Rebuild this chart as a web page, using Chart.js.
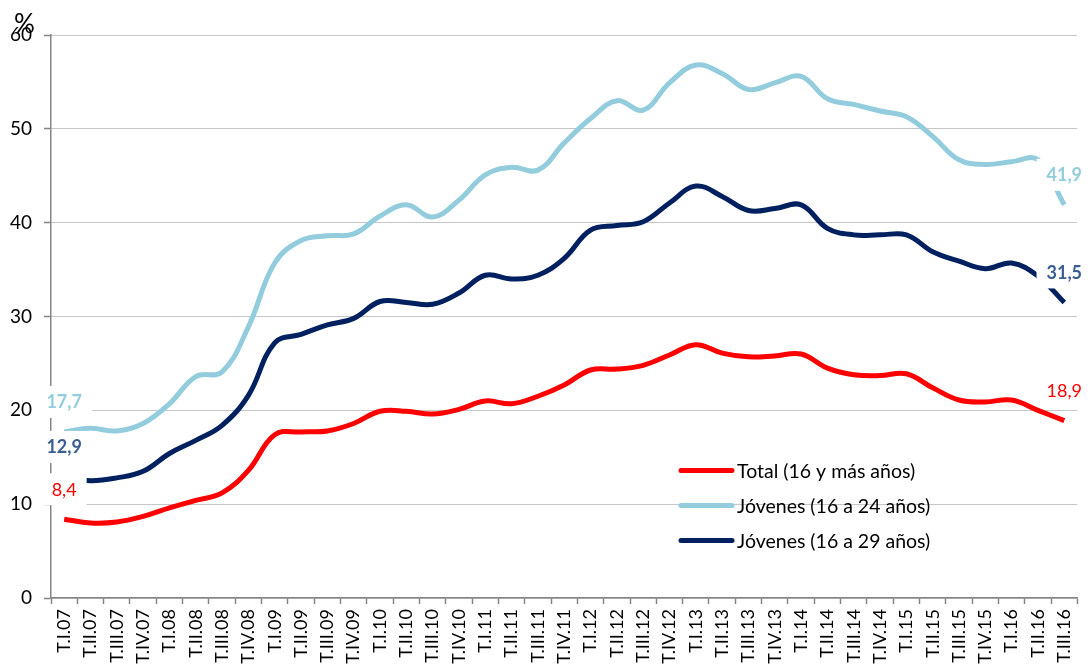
<!DOCTYPE html>
<html>
<head>
<meta charset="utf-8">
<script src="https://cdn.jsdelivr.net/npm/chart.js@4/dist/chart.umd.min.js"></script>
<style>
  body { margin: 0; background: #fff; }
  #wrap { width: 1091px; height: 670px; }
</style>
</head>
<body>
<div id="wrap"><canvas id="line-chart" width="1091" height="670"></canvas></div>
<script>
// trimestres
var trimestres = ['T.I.07', 'T.II.07', 'T.III.07', 'T.IV.07',
	'T.I.08', 'T.II.08', 'T.III.08', 'T.IV.08',
	'T.I.09', 'T.II.09', 'T.III.09', 'T.IV.09',
	'T.I.10', 'T.II.10', 'T.III.10', 'T.IV.10',
	'T.I.11', 'T.II.11', 'T.III.11', 'T.IV.11',
	'T.I.12', 'T.II.12', 'T.III.12', 'T.IV.12',
	'T.I.13', 'T.II.13', 'T.III.13', 'T.IV.13',
	'T.I.14', 'T.II.14', 'T.III.14', 'T.IV.14',
	'T.I.15', 'T.II.15', 'T.III.15', 'T.IV.15',
	'T.I.16', 'T.II.16', 'T.III.16'];

// tasa de paro (%)
var total = [8.4, 8.0, 8.1, 8.7, 9.6, 10.4, 11.2, 13.6, 17.4, 17.7, 17.8, 18.6, 19.9, 19.9, 19.6, 20.1,
	21.0, 20.7, 21.5, 22.7, 24.3, 24.4, 24.8, 25.9, 27.0, 26.1, 25.7, 25.8, 26.0, 24.5, 23.8, 23.7,
	23.9, 22.4, 21.1, 20.9, 21.1, 20.0, 18.9];
var jovenes24 = [17.7, 18.1, 17.8, 18.6, 20.7, 23.6, 24.1, 28.9, 35.7, 38.1, 38.6, 38.8, 40.7, 41.9, 40.6, 42.4,
	45.1, 45.9, 45.6, 48.5, 51.1, 53.0, 52.0, 54.9, 56.8, 55.9, 54.2, 54.9, 55.6, 53.2, 52.6, 51.9,
	51.3, 49.2, 46.7, 46.2, 46.5, 46.7, 41.9];
var jovenes29 = [12.9, 12.5, 12.8, 13.5, 15.4, 16.8, 18.4, 21.6, 27.2, 28.1, 29.1, 29.8, 31.6, 31.5, 31.3, 32.5,
	34.4, 34.0, 34.4, 36.2, 39.2, 39.7, 40.1, 42.1, 43.9, 42.8, 41.3, 41.5, 41.9, 39.4, 38.7, 38.7,
	38.7, 36.9, 35.9, 35.1, 35.7, 34.3, 31.5];

var nombres = ['Total (16 y más años)', 'Jóvenes (16 a 24 años)', 'Jóvenes (16 a 29 años)'];
var colores = ['#FF0000', '#93CDDD', '#002060'];
var coloresEtiqueta = ['#FF0000', '#93CDDD', '#3A5D92'];
var negrita = [false, true, true];

var fuente = 'Lato, "Open Sans", sans-serif';

// etiquetas de inicio/fin, leyenda y simbolo %
var extras = {
	id: 'extras',
	afterDatasetsDraw: function(chart) {
		var ctx = chart.ctx;
		chart.data.datasets.forEach(function(ds, i) {
			var meta = chart.getDatasetMeta(i);
			[0, meta.data.length - 1].forEach(function(j) {
				var p = meta.data[j];
				var txt = ds.data[j].toFixed(1).replace('.', ',');
				ctx.save();
				ctx.font = (negrita[i] ? 'bold ' : '') + '18px ' + fuente;
				var w = ctx.measureText(txt).width;
				var cx = p.x, cy = p.y - 30;
				ctx.fillStyle = '#fff';
				ctx.fillRect(cx - w / 2 - 10, cy - 16, w + 20, 32);
				ctx.fillStyle = coloresEtiqueta[i];
				ctx.textAlign = 'center';
				ctx.textBaseline = 'alphabetic';
				ctx.fillText(txt, cx, cy + 6.5);
				ctx.restore();
			});
		});
	},
	afterDraw: function(chart) {
		var ctx = chart.ctx;
		ctx.save();
		// leyenda
		ctx.font = '19.5px ' + fuente;
		ctx.textBaseline = 'middle';
		chart.data.datasets.forEach(function(ds, i) {
			var y = 470.5 + i * 35;
			ctx.strokeStyle = colores[i];
			ctx.lineWidth = 5;
			ctx.lineCap = 'round';
			ctx.beginPath();
			ctx.moveTo(681, y);
			ctx.lineTo(732, y);
			ctx.stroke();
			ctx.fillStyle = '#000';
			ctx.fillText(ds.label, 737, y + 1);
		});
		// unidad
		ctx.font = '26px ' + fuente;
		ctx.textBaseline = 'alphabetic';
		ctx.fillText('%', 14, 33);
		ctx.restore();
	}
};

var ctx = document.getElementById("line-chart").getContext("2d");
var myChart = new Chart(ctx, {
	type: 'line',
	data: {
		labels: trimestres,
		datasets: [
			{ label: nombres[0], data: total, borderColor: colores[0], borderWidth: 5, pointRadius: 0, tension: 0.4, fill: false },
			{ label: nombres[1], data: jovenes24, borderColor: colores[1], borderWidth: 5, pointRadius: 0, tension: 0.4, fill: false },
			{ label: nombres[2], data: jovenes29, borderColor: colores[2], borderWidth: 5, pointRadius: 0, tension: 0.4, fill: false }
		]
	},
	options: {
		responsive: false,
		animation: false,
		layout: { padding: { top: 35, right: 8, left: 0, bottom: 0 } },
		plugins: {
			legend: { display: false },
			tooltip: { enabled: false }
		},
		scales: {
			x: {
				offset: true,
				grid: {
					offset: true,
					drawOnChartArea: false,
					drawTicks: true,
					tickLength: 6,
					tickColor: '#868686',
					tickWidth: 1.5
				},
				border: { color: '#868686', width: 1.5 },
				ticks: {
					autoSkip: false,
					maxRotation: 90,
					minRotation: 90,
					padding: 5,
					color: '#000',
					font: { family: fuente, size: 18 }
				},
				afterFit: function(scale) { scale.height = 72; }
			},
			y: {
				min: 0,
				max: 60,
				ticks: {
					stepSize: 10,
					padding: 12,
					color: '#000',
					font: { family: fuente, size: 19 }
				},
				grid: {
					color: '#8C8C8C',
					lineWidth: 1,
					tickColor: '#868686',
					tickLength: 7,
					tickWidth: 1.5
				},
				border: { color: '#868686', width: 1.5, dash: [1, 1] },
				afterFit: function(scale) { scale.width = 51; }
			}
		}
	},
	plugins: [extras]
});
</script>
</body>
</html>
